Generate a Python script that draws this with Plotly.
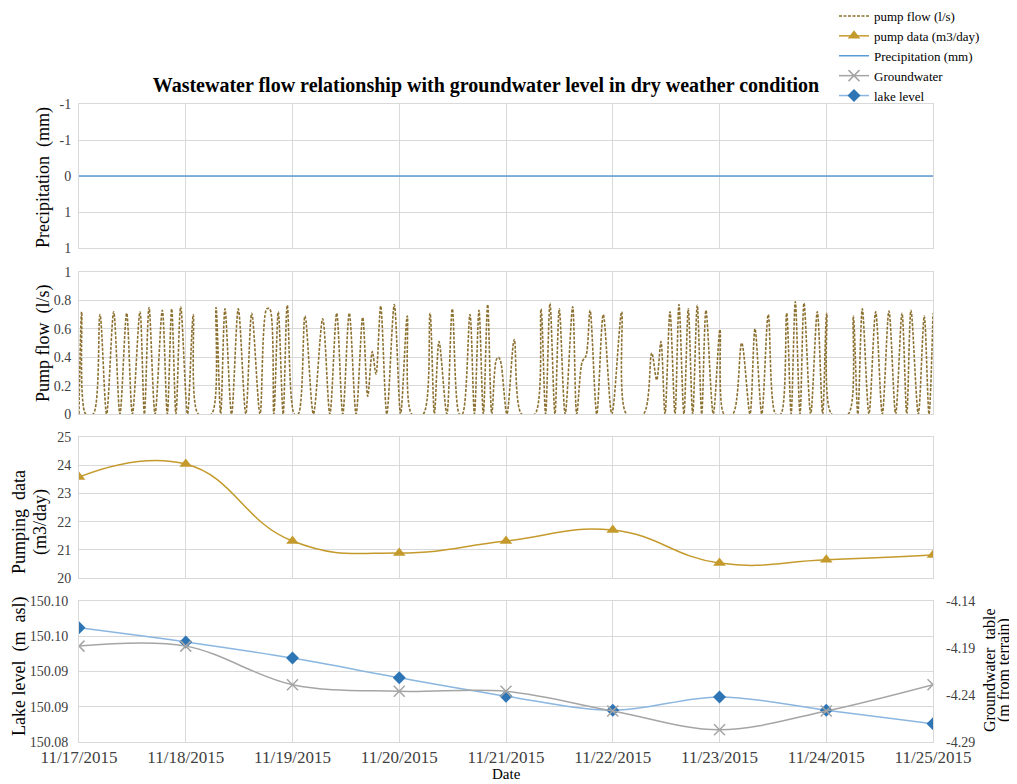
import pandas as pd
import plotly.graph_objects as go

# ---------------- data ----------------
days = ["2015-11-17", "2015-11-18", "2015-11-19", "2015-11-20", "2015-11-21",
        "2015-11-22", "2015-11-23", "2015-11-24", "2015-11-25"]
precipitation = [0, 0, 0, 0, 0, 0, 0, 0, 0]
pump_data = [23.58, 24.04, 21.31, 20.89, 21.31, 21.70, 20.53, 20.65, 20.82]
groundwater = [-4.188, -4.188, -4.229, -4.236, -4.236, -4.257, -4.277, -4.257, -4.229]
lake_level = [150.0962, 150.0942, 150.0919, 150.0891, 150.0865, 150.0845, 150.0864, 150.0845, 150.0826]

# pump flow: hours after 11/17/2015 00:00 and flow (l/s)
pump_hours = [0.0, 0.6, 1.5, 3.2, 4.72, 6.2, 7.8, 9.2, 10.72, 12.0,
              13.71, 14.7, 15.74, 17.1, 18.73, 19.85, 20.84, 21.8, 22.86, 24.4,
              25.7, 26.8, 29.8, 30.8, 31.85, 32.82, 34.3, 35.81, 37.5, 38.83,
              40.7, 42.2, 42.9, 43.8, 44.81, 45.9, 46.83, 48.4, 49.3, 50.81,
              52.7, 54.79, 56.4, 57.94, 59.3, 60.77, 62.3, 63.78, 64.91, 65.94,
              66.77, 67.83, 69.2, 70.89, 72.3, 73.81, 74.8, 77.4, 78.91, 79.9,
              80.94, 82.7, 83.93, 85.5, 86.2, 87.9, 88.9, 89.93, 90.9, 91.88,
              92.8, 93.8, 94.3, 94.8, 96.2, 97.86, 99.5, 102.5, 103.87, 104.9,
              105.89, 107.0, 107.98, 109.3, 110.99, 111.9, 113.15, 114.0, 114.9, 116.4,
              117.87, 119.8, 122.01, 123.1, 126.9, 128.76, 129.88, 130.84, 131.75, 132.87,
              134.0, 134.89, 136.0, 136.98, 137.97, 139.0, 140.0, 140.96, 142.6, 144.11,
              145.0, 147.0, 148.99, 150.85, 151.98, 153.5, 154.97, 156.6, 157.8, 159.1,
              160.1, 161.04, 162.1, 163.0, 164.5, 165.99, 167.2, 168.1, 169.2, 172.95,
              174.08, 175.1, 176.1, 177.6, 179.11, 180.6, 182.1, 183.6, 185.03, 186.1,
              187.05, 188.7, 190.04, 191.1, 192.0]
pump_flow = [0, 0.72, 0, 0, 0.70, 0, 0.72, 0, 0.71, 0,
             0.72, 0, 0.75, 0, 0.73, 0, 0.74, 0, 0.755, 0,
             0.70, 0, 0, 0.75, 0, 0.74, 0, 0.74, 0, 0.71,
             0, 0.74, 0.74, 0, 0.72, 0, 0.765, 0, 0, 0.69,
             0, 0.67, 0, 0.71, 0, 0.71, 0, 0.68, 0.125, 0.44,
             0.28, 0.76, 0, 0.77, 0, 0.69, 0, 0, 0.71, 0,
             0.51, 0, 0.74, 0, 0, 0.70, 0, 0.73, 0, 0.77,
             0, 0.38, 0.40, 0.37, 0, 0.525, 0, 0, 0.74, 0,
             0.78, 0, 0.74, 0, 0.755, 0, 0.37, 0.41, 0.73, 0,
             0.70, 0, 0.72, 0, 0, 0.43, 0.24, 0.51, 0, 0.72,
             0, 0.77, 0, 0.74, 0, 0.765, 0, 0.73, 0, 0.595,
             0, 0, 0.50, 0, 0.60, 0, 0.70, 0, 0, 0.71,
             0, 0.79, 0, 0.78, 0, 0.72, 0, 0.71, 0, 0,
             0.69, 0, 0.74, 0, 0.72, 0, 0.725, 0, 0.71, 0,
             0.73, 0, 0.69, 0, 0.71]

precip_ticks = [-1, -0.5, 0, 0.5, 1]
precip_ticktext = ["-1", "-1", "0", "1", "1"]
flow_ticks = [0, 0.2, 0.4, 0.6, 0.8, 1]
flow_ticktext = ["0", "0.2", "0.4", "0.6", "0.8", "1"]
pumpdata_ticks = [20, 21, 22, 23, 24, 25]
pumpdata_ticktext = ["20", "21", "22", "23", "24", "25"]
lake_ticks = [150.08, 150.085, 150.09, 150.095, 150.10]
lake_ticktext = ["150.08", "150.09", "150.09", "150.10", "150.10"]
gw_ticks = [-4.29, -4.24, -4.19, -4.14]
gw_ticktext = ["-4.29", "-4.24", "-4.19", "-4.14"]

# ---------------- figure ----------------
FONT = "Liberation Serif, Times New Roman, serif"
GRID = "#d9d9d9"
TICKC = "#404040"

# page has an 8px body margin: work in page pixels and convert
OFF = 8
W, H = 1017 - OFF, 784 - OFF


def PX(x):
    return (x - OFF) / W


def PY(y):
    return 1 - (y - OFF) / H


pump_times = pd.Timestamp("2015-11-17") + pd.to_timedelta(pump_hours, unit="h")

fig = go.Figure()
fig.add_trace(go.Scatter(x=pump_times, y=pump_flow, name="pump flow (l/s)", mode="lines",
                         line=dict(color="#8c7030", width=1.6, dash="3px,1.5px", shape="spline", smoothing=0.9),
                         xaxis="x2", yaxis="y2"))
fig.add_trace(go.Scatter(x=days, y=pump_data, name="pump data (m3/day)", mode="lines+markers",
                         line=dict(color="#c49a2c", width=1.5, shape="spline", smoothing=1.3),
                         marker=dict(symbol="triangle-up", size=11, color="#c49a2c"),
                         xaxis="x3", yaxis="y3"))
fig.add_trace(go.Scatter(x=days, y=precipitation, name="Precipitation (mm)", mode="lines",
                         line=dict(color="#5b9bd5", width=1.5),
                         xaxis="x", yaxis="y"))
fig.add_trace(go.Scatter(x=days, y=groundwater, name="Groundwater", mode="lines+markers",
                         line=dict(color="#a5a5a5", width=1.5, shape="spline"),
                         marker=dict(symbol="x-thin-open", size=11, line=dict(color="#7f8fa6", width=1.5)),
                         xaxis="x4", yaxis="y5"))
fig.add_trace(go.Scatter(x=days, y=lake_level, name="lake level", mode="lines+markers",
                         line=dict(color="#8ab6e0", width=1.5, shape="spline"),
                         marker=dict(symbol="diamond", size=10, color="#2e75b6"),
                         xaxis="x4", yaxis="y4"))

xdom = [PX(79), PX(933)]
panels = [(104, 248), (272, 414), (437, 578), (601, 742)]
ydoms = [[PY(b), PY(t)] for t, b in panels]


def xax(anchor, show):
    return dict(domain=xdom, anchor=anchor, type="date", automargin=False,
                range=["2015-11-17", "2015-11-25"], tick0="2015-11-17", dtick=86400000,
                tickformat="%m/%d/%Y", showticklabels=show, ticks="",
                tickfont=dict(family=FONT, size=17, color=TICKC),
                showgrid=True, gridcolor=GRID, gridwidth=1,
                showline=True, mirror=True, linecolor=GRID, zeroline=False)


def yax(anchor, dom, rng, tv, tt, standoff):
    return dict(domain=dom, anchor=anchor, range=rng, tickvals=tv, ticktext=tt, ticks="",
                automargin=False, ticklabelstandoff=standoff,
                tickfont=dict(family=FONT, size=14, color=TICKC),
                showgrid=True, gridcolor=GRID, gridwidth=1,
                showline=True, mirror=True, linecolor=GRID, zeroline=False)


fig.update_layout(
    width=W, height=H,
    margin=dict(l=0, r=0, t=0, b=0, autoexpand=False),
    paper_bgcolor="white", plot_bgcolor="white",
    font=dict(family=FONT, color="#000000"),
    title=dict(text="<b>Wastewater flow relationship with groundwater level in dry weather condition</b>",
               x=PX(486), xanchor="center", y=PY(85), yanchor="middle", automargin=False,
               font=dict(family=FONT, size=20, color="#000000")),
    showlegend=True,
    legend=dict(x=PX(834), y=PY(1), xanchor="left", yanchor="top",
                font=dict(family=FONT, size=13, color="#000000"),
                bgcolor="rgba(0,0,0,0)", tracegroupgap=0),
    xaxis=xax("y", False),
    xaxis2=xax("y2", False),
    xaxis3=xax("y3", False),
    xaxis4=xax("y4", True),
    yaxis=yax("x", ydoms[0], [1, -1], precip_ticks, precip_ticktext, 4),
    yaxis2=yax("x2", ydoms[1], [0, 1], flow_ticks, flow_ticktext, 4),
    yaxis3=yax("x3", ydoms[2], [20, 25], pumpdata_ticks, pumpdata_ticktext, 4),
    yaxis4=yax("x4", ydoms[3], [150.08, 150.10], lake_ticks, lake_ticktext, 7),
    yaxis5=dict(domain=ydoms[3], anchor="x4", overlaying="y4", side="right", automargin=False,
                range=[-4.29, -4.14], tickvals=gw_ticks, ticktext=gw_ticktext, ticks="",
                ticklabelstandoff=12,
                tickfont=dict(family=FONT, size=14, color=TICKC),
                showgrid=False, zeroline=False, showline=False),
)


def ytitle(text, x, y, size=18):
    fig.add_annotation(text=text, x=PX(x), y=PY(y), xref="paper", yref="paper",
                       showarrow=False, textangle=-90, xanchor="center", yanchor="middle",
                       font=dict(family=FONT, size=size, color="#000000"))


ytitle("Precipitation  (mm)", 43, 178)
ytitle("Pump flow  (l/s)", 43, 343)
ytitle("Pumping  data", 19, 522)
ytitle("(m3/day)", 40, 522)
ytitle("Lake level  (m  asl)", 19, 667)
ytitle("Groundwater  table", 989, 670, 16)
ytitle("(m from terrain)", 1004, 670, 16)

fig.add_annotation(text="Date", x=PX(506), y=PY(774), xref="paper", yref="paper",
                   showarrow=False, xanchor="center", yanchor="middle",
                   font=dict(family=FONT, size=15, color="#000000"))

fig.write_html("out.html")
